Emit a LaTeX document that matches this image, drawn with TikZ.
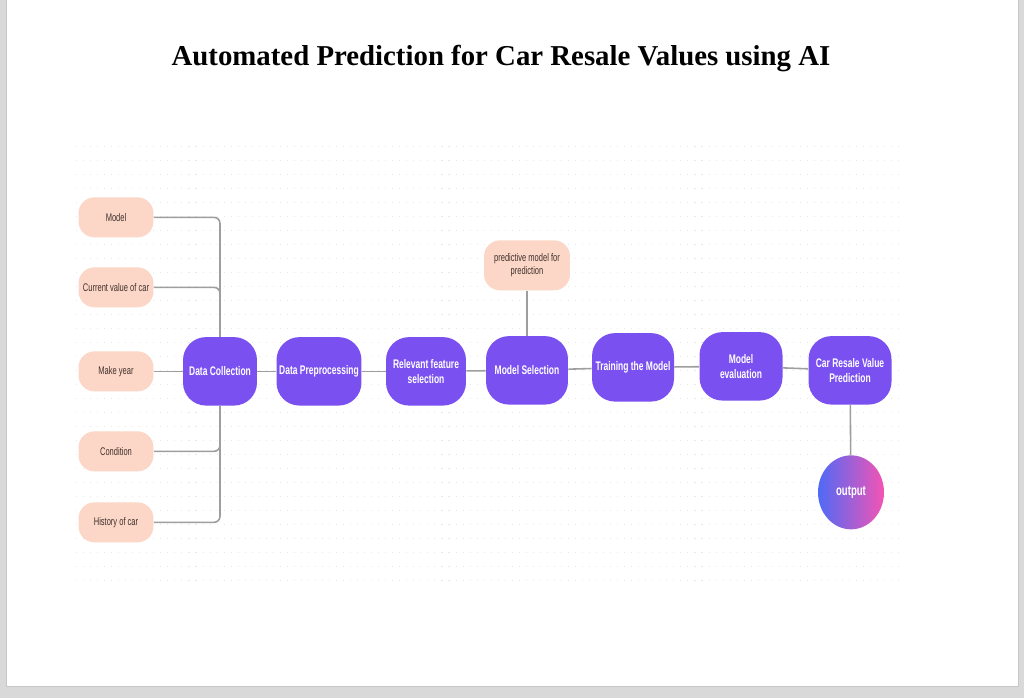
\documentclass[tikz,border=0pt]{standalone}
\usepackage{fontspec}
\setmainfont{Liberation Serif}
\newfontfamily\condfont[FakeStretch=0.68]{Liberation Sans}
\usetikzlibrary{shapes.geometric,positioning,calc}

\definecolor{stagefill}{HTML}{7A50F0}
\definecolor{inputfill}{HTML}{FCD6C6}
\definecolor{inputtext}{HTML}{3E302B}
\definecolor{linkgray}{HTML}{9E9E9E}
\definecolor{outblue}{HTML}{4F6AF6}
\definecolor{outpink}{HTML}{F454B4}

\begin{document}
\begin{tikzpicture}[
  x=0.02cm, y=-0.02cm,
  stage/.style={rectangle, fill=stagefill, rounded corners=0.46cm, align=center, text=white,
    font=\condfont\bfseries\fontsize{7.1}{8.4}\selectfont, inner sep=1.5pt, minimum height=1.37cm},
  input/.style={rectangle, fill=inputfill, rounded corners=0.32cm, align=center, text=inputtext,
    font=\condfont\fontsize{6.3}{7.4}\selectfont, minimum width=1.5cm, minimum height=0.8cm, inner sep=1pt},
  link/.style={draw=linkgray, line width=0.9pt, rounded corners=0.12cm},
  gridline/.style={gray!18, line width=0.5pt, dash pattern=on 0.6pt off 3.4pt},
]

% === page ===
\fill[gray!30] (0,0) rectangle (1024,698);
\fill[white] (6,0) rectangle (1018,686);
\draw[gray!45, line width=0.4pt] (6,0) -- (6,686) -- (1018,686) -- (1018,0);
\useasboundingbox (0,0) rectangle (1024,698);

\node[font=\bfseries\fontsize{16.4}{19}\selectfont] (title) at (501,58) {Automated Prediction for Car Resale Values using AI};

% === dotted canvas ===
\foreach \y in {146,160,...,590}
  \draw[gridline] (76,\y) -- (900,\y);

% === inputs ===
\node[input] (in1) at (116,217) {Model};
\node[input] (in2) at (116,287) {Current value of car};
\node[input] (in3) at (116,371) {Make year};
\node[input] (in4) at (116,451) {Condition};
\node[input] (in5) at (116,522) {History of car};

% === pipeline ===
\node[stage, minimum width=1.48cm] (dc) at (220,371) {Data Collection};
\node[stage, minimum width=1.70cm] (dp) at (319,371) {Data Preprocessing};
\node[stage, minimum width=1.60cm] (fs) at (426,371) {Relevant feature\\selection};
\node[stage, minimum width=1.64cm] (ms) at (527,370) {Model Selection};
\node[stage, minimum width=1.64cm] (tm) at (633,367) {Training the Model};
\node[stage, minimum width=1.66cm] (ev) at (741,366) {Model\\evaluation};
\node[stage, minimum width=1.66cm] (crv) at (850,370) {Car Resale Value\\Prediction};

\node[input, minimum width=1.72cm, minimum height=1.0cm] (pm) at (527,265) {predictive model for\\prediction};

\node[ellipse, left color=outblue, right color=outpink, minimum width=1.32cm, minimum height=1.48cm,
  text=white, font=\condfont\bfseries\fontsize{8}{9}\selectfont] (out) at (851,492) {output};

% === connectors ===
\draw[link] (in1.east) -| (dc.north);
\draw[link] (in2.east) -| (dc.north);
\draw[link] (in3) -- (dc);
\draw[link] (in4.east) -| (dc.south);
\draw[link] (in5.east) -| (dc.south);

\draw[link] (dc) -- (dp);
\draw[link] (dp) -- (fs);
\draw[link] (fs) -- (ms);
\draw[link] (ms) -- (tm);
\draw[link] (tm) -- (ev);
\draw[link] (ev) -- (crv);
\draw[link] (pm) -- (ms);
\draw[link] (crv) -- (out);

\end{tikzpicture}
\end{document}
